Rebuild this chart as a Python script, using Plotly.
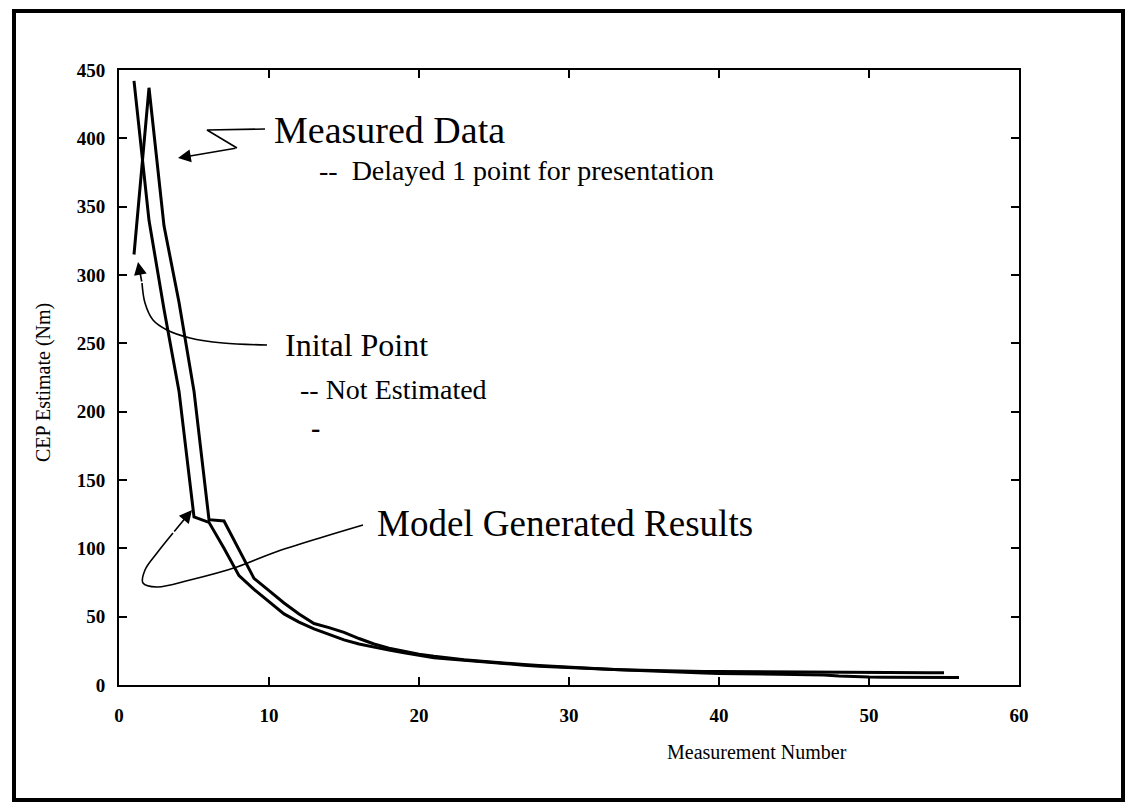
import plotly.graph_objects as go

# ---------------- data ----------------
model_x = list(range(1, 56))
model_y = [442, 340, 275, 215, 123, 119, 100, 80, 70, 61,
           52, 46, 41, 37, 33, 30, 27.5, 25.5, 23.5, 21.5,
           20, 19, 18, 17, 16, 15.2, 14.5, 13.8, 13.2, 12.6,
           12.1, 11.7, 11.3, 11, 10.7, 10.4, 10.2, 10, 9.9, 9.8,
           9.7, 9.6, 9.6, 9.5, 9.5, 9.4, 9.4, 9.3, 9.3, 9.2,
           9.2, 9.1, 9.1, 9.0, 9.0]

measured_x = list(range(1, 57))
measured_y = [315, 437, 336, 280, 215, 121, 120, 99, 78, 69,
              60, 52, 45, 42, 38.5, 34, 30, 27, 24.5, 22.5,
              21, 19.5, 18.5, 17.5, 16.5, 15.7, 15, 14.3, 13.6, 13,
              12.4, 11.9, 11.4, 10.9, 10.4, 10, 9.6, 9.2, 8.8, 8.5,
              8.2, 8, 7.9, 7.8, 7.7, 7.6, 7.4, 6.6, 6.0, 5.8,
              5.7, 5.6, 5.5, 5.5, 5.4, 5.4]

x_ticks = [0, 10, 20, 30, 40, 50, 60]
y_ticks = [0, 50, 100, 150, 200, 250, 300, 350, 400, 450]

# ---------------- layout geometry ----------------
W, H = 1134, 810
L, R, T, B = 119, 115, 70, 125
PW, PH = W - L - R, H - T - B
XMAX, YMAX = 60, 450
SERIF = "Liberation Serif, Times New Roman, serif"


def px2x(px):
    return (px - L) / PW * XMAX


def py2y(py):
    return (H - B - py) / PH * YMAX


def pxp(px):
    return (px - L) / PW


def pyp(py):
    return (H - B - py) / PH


fig = go.Figure()

fig.add_trace(go.Scatter(x=model_x, y=model_y, mode="lines",
                         line=dict(color="black", width=3), name="Model"))
fig.add_trace(go.Scatter(x=measured_x, y=measured_y, mode="lines",
                         line=dict(color="black", width=3), name="Measured"))

# leader lines for callouts (pixel geometry)
leaders = [
    ([265, 207, 237], [129, 130, 148], "linear"),
    ([267, 223, 190, 167, 153, 145, 142], [345, 343, 338, 330, 320, 303, 283], "spline"),
    ([363, 323, 273, 237, 190, 157, 143, 145, 157, 173],
     [525, 537, 553, 567, 580, 587, 583, 570, 553, 533], "spline"),
]
for xs, ys, shp in leaders:
    fig.add_trace(go.Scatter(x=[px2x(v) for v in xs], y=[py2y(v) for v in ys],
                             mode="lines", line=dict(color="black", width=1.6, shape=shp),
                             hoverinfo="skip"))

arrows = [
    ((178, 158), (237, 148)),
    ((138, 262), (142, 283)),
    ((192, 510), (173, 533)),
]
annotations = []
for (tx, ty), (sx, sy) in arrows:
    annotations.append(dict(x=px2x(tx), y=py2y(ty), ax=px2x(sx), ay=py2y(sy),
                            xref="x", yref="y", axref="x", ayref="y", text="",
                            showarrow=True, arrowhead=2, arrowsize=1.6,
                            arrowwidth=1.6, arrowcolor="black"))

texts = [
    ("Measured Data", 272, 130, 38, "middle"),
    ("--  Delayed 1 point for presentation", 317, 171, 28, "middle"),
    ("Inital Point", 283, 345, 32, "middle"),
    ("-- Not Estimated", 298, 390, 28, "middle"),
    ("<b>-</b>", 309, 410, 28, "top"),
    ("Model Generated Results", 375, 523, 37, "middle"),
]
for txt, x, y, s, ya in texts:
    annotations.append(dict(x=pxp(x), y=pyp(y), xref="paper", yref="paper",
                            text=txt, showarrow=False, xanchor="left", yanchor=ya,
                            font=dict(family=SERIF, size=s, color="black")))

# axis titles
annotations.append(dict(x=pxp(757), y=pyp(752), xref="paper", yref="paper",
                        text="Measurement Number", showarrow=False,
                        xanchor="center", yanchor="middle",
                        font=dict(family=SERIF, size=20, color="black")))
annotations.append(dict(x=pxp(43), y=pyp(383), xref="paper", yref="paper",
                        text="CEP Estimate (Nm)", showarrow=False, textangle=-90,
                        xanchor="center", yanchor="middle",
                        font=dict(family=SERIF, size=20, color="black")))

axis_common = dict(showgrid=False, zeroline=False, showline=True, linecolor="black",
                   linewidth=2, mirror="ticks", ticks="inside", ticklen=8,
                   tickwidth=2, tickcolor="black",
                   tickfont=dict(family=SERIF, size=19, color="black", weight="bold"))

fig.update_layout(
    width=W, height=H,
    margin=dict(l=L, r=R, t=T, b=B),
    paper_bgcolor="white", plot_bgcolor="white",
    showlegend=False, hovermode=False,
    xaxis=dict(range=[0, XMAX], tickvals=x_ticks, ticklabelstandoff=12, **axis_common),
    yaxis=dict(range=[0, YMAX], tickvals=y_ticks, ticklabelstandoff=8, **axis_common),
    annotations=annotations,
    shapes=[dict(type="rect", xref="paper", yref="paper",
                 x0=pxp(14), x1=pxp(1123), y0=pyp(800), y1=pyp(11),
                 line=dict(color="black", width=4), fillcolor="rgba(0,0,0,0)")],
)

fig.write_html("out.html")
